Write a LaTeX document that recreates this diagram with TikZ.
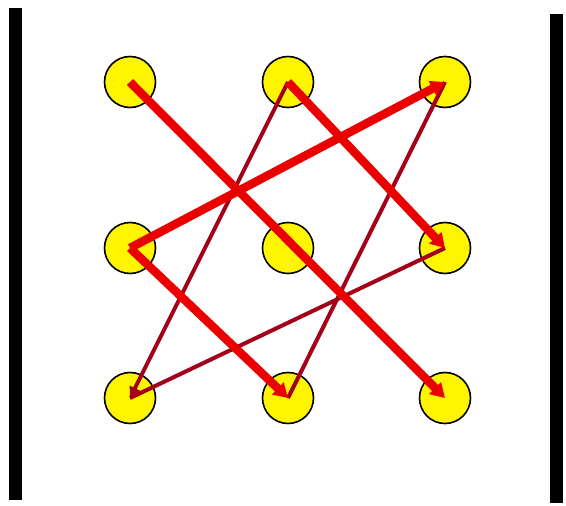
\documentclass[tikz,border=0pt]{standalone}
\usetikzlibrary{arrows.meta}
\definecolor{thickred}{RGB}{235,0,0}
\definecolor{thinred}{RGB}{165,0,25}
\definecolor{dotyellow}{RGB}{255,245,0}
\tikzset{
  dot/.style={circle,draw=black,line width=1.6pt,fill=dotyellow,minimum size=51pt,inner sep=0pt},
  thickline/.style={draw=thickred,line width=8.5pt},
  thinline/.style={draw=thinred,line width=4pt},
  tipthick/.style={-{Triangle[length=14pt,width=16pt]}},
  tipthin/.style={-{Triangle[length=11pt,width=11pt]}},
  bar/.style={fill=black,draw=none}
}
\begin{document}
\begin{tikzpicture}[x=1pt,y=-1pt]
\useasboundingbox (0,0) rectangle (566,506);
\fill[white] (0,0) rectangle (566,506);
% vertical bars
\fill[bar] (9,8) rectangle (22,500);
\fill[bar] (550,14) rectangle (563,503);
% dots
\node[dot] (TL) at (130,82) {};
\node[dot] (TM) at (288,82) {};
\node[dot] (TR) at (445,82) {};
\node[dot] (ML) at (130,248) {};
\node[dot] (MC) at (288,248) {};
\node[dot] (MR) at (445,248) {};
\node[dot] (BL) at (130,398) {};
\node[dot] (BM) at (288,398) {};
\node[dot] (BR) at (445,398) {};
% thin lines
\draw[thinline,tipthin] (TM.center) -- (BL.center);
\draw[thinline] (TR.center) -- (BM.center);
\draw[thinline] (BL.center) -- (MR.center);
% thick lines
\draw[thickline,tipthick] (TL.center) -- (BR.center);
\draw[thickline,tipthick] (ML.center) -- (TR.center);
\draw[thickline,tipthick] (TM.center) -- (MR.center);
\draw[thickline,tipthick] (ML.center) -- (BM.center);
\end{tikzpicture}
\end{document}
